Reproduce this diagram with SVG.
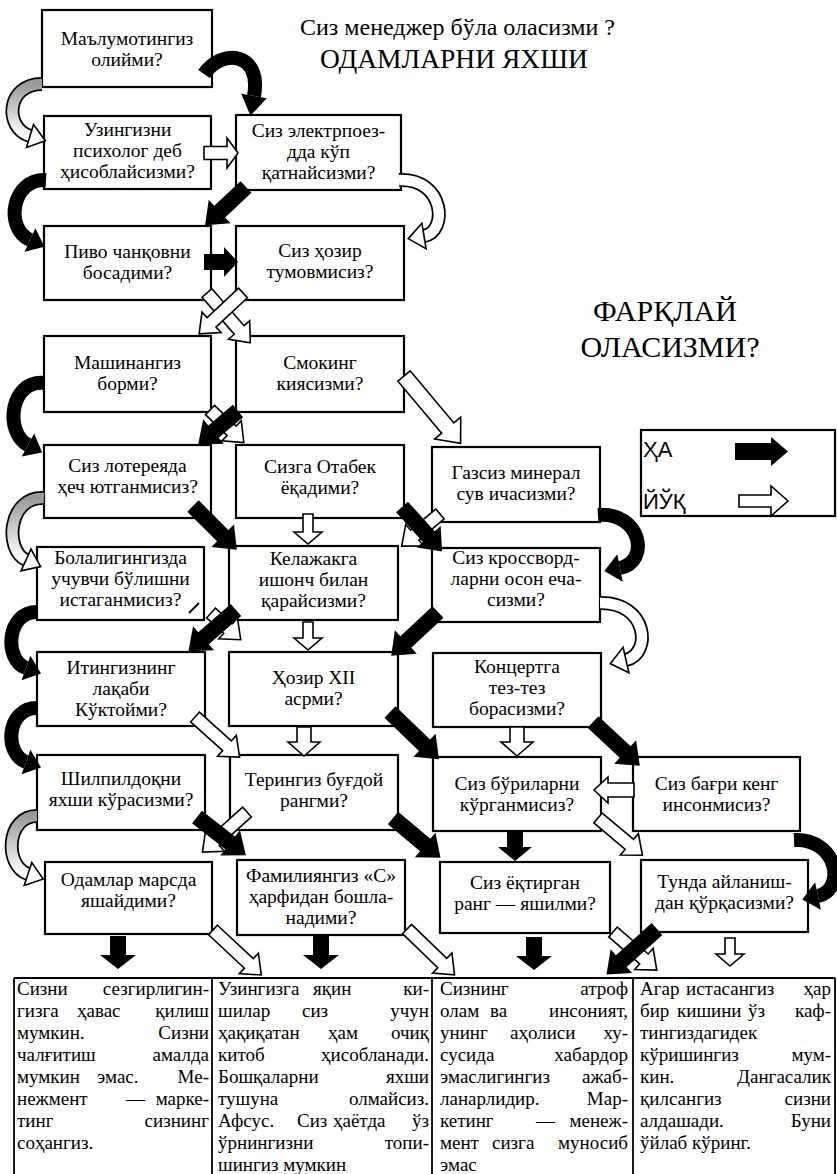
<svg xmlns="http://www.w3.org/2000/svg" xmlns:xlink="http://www.w3.org/1999/xlink" width="837" height="1174" viewBox="0 0 837 1174">
<style>
.box{fill:#fff;stroke:#000;stroke-width:2.2}
.t{font-family:"Liberation Serif","Times New Roman",serif;font-size:19.5px;text-anchor:middle;fill:#000}
.tt{font-family:"Liberation Serif","Times New Roman",serif;font-size:19px;fill:#000}
.e{text-anchor:end}
.ttl{font-family:"Liberation Serif","Times New Roman",serif;fill:#000}
.lg{font-family:"Liberation Sans",Arial,sans-serif;font-size:22px;fill:#000}
.blk{fill:#000}
.wht{fill:#fff;stroke:#000;stroke-width:1.6}
.cb{fill:none;stroke:#000;stroke-width:14}
.co{fill:none;stroke:#000;stroke-width:14}
.cw{fill:none;stroke:#fff;stroke-width:10.5}
.cg{fill:none;stroke:url(#gr);stroke-width:10.5}
.gh{fill:#fff;stroke:#000;stroke-width:1.6}
.tl{fill:none;stroke:#000;stroke-width:1.8}
</style>
<defs>
<linearGradient id="gr" x1="0" y1="0" x2="0" y2="1">
<stop offset="0" stop-color="#9a9a9a"/>
<stop offset="1" stop-color="#ffffff"/>
</linearGradient>
<path id="b34h" d="M0,-8H20V-15L34,0L20,15V8H0Z"/>
<path id="b52" d="M0,-8H32V-16L52,0L32,16V8H0Z"/>
<path id="b56" d="M0,-8H36V-16L56,0L36,16V8H0Z"/>
<path id="b60" d="M0,-8H40V-16L60,0L40,16V8H0Z"/>
<path id="b62" d="M0,-8H42V-16L62,0L42,16V8H0Z"/>
<path id="b63" d="M0,-8H43V-16L63,0L43,16V8H0Z"/>
<path id="b64" d="M0,-8H44V-16L64,0L44,16V8H0Z"/>
<path id="b68" d="M0,-8H48V-16L68,0L48,16V8H0Z"/>
<path id="bv30" d="M0,-8H16V-17L30,0L16,17V8H0Z"/>
<path id="bv33" d="M0,-8H19V-18L33,0L19,18V8H0Z"/>
<path id="w34h" d="M0,-6.5H23V-15L34,0L23,15V6.5H0Z"/>
<path id="w40" d="M0,-6.5H23V-14L40,0L23,14V6.5H0Z"/>
<path id="w47" d="M0,-6.5H30V-14L47,0L30,14V6.5H0Z"/>
<path id="w50" d="M0,-6.5H33V-14L50,0L33,14V6.5H0Z"/>
<path id="w58" d="M0,-6.5H41V-14L58,0L41,14V6.5H0Z"/>
<path id="w60" d="M0,-6.5H43V-14L60,0L43,14V6.5H0Z"/>
<path id="w66" d="M0,-6.5H49V-14L66,0L49,14V6.5H0Z"/>
<path id="w88" d="M0,-8H68V-17L88,0L68,17V8H0Z"/>
<path id="wv30" d="M0,-5H18V-14L30,0L18,14V5H0Z"/>
<path id="wv28" d="M0,-5H16V-14L28,0L16,14V5H0Z"/>
<path id="wv29b" d="M0,-7H15V-16L29,0L15,16V7H0Z"/>
<path id="wh40" d="M0,-7H26V-13L40,0L26,13V7H0Z"/>
</defs>
<rect x="0" y="0" width="837" height="1174" fill="#fff"/>

<g id="titles">
<text class="ttl" x="300" y="35" font-size="24">Сиз менеджер бўла оласизми ?</text>
<text class="ttl" x="320" y="68" font-size="27.5">ОДАМЛАРНИ ЯХШИ</text>
<text class="ttl" x="665" y="321" font-size="30" text-anchor="middle">ФАРҚЛАЙ</text>
<text class="ttl" x="670" y="357" font-size="30" text-anchor="middle">ОЛАСИЗМИ?</text>
</g>

<g id="legend">
<rect class="box" x="641" y="430" width="194" height="86"/>
<text class="lg" x="643" y="457">ҲА</text>
<text class="lg" x="643" y="509">ЙЎҚ</text>
<path class="blk" d="M735,443H771V437L788,451.5L771,466V460H735Z"/>
<path class="wht" d="M739,495H771V486L788,501L771,516V507H739Z"/>
</g>

<g id="n1"><rect class="box" x="42" y="10" width="170" height="77"/><text class="t" x="127" y="45">Маълумотингиз</text><text class="t" x="127" y="66">олийми?</text></g>
<g id="n2"><rect class="box" x="44" y="116" width="167" height="73"/><text class="t" x="127.5" y="136">Узингизни</text><text class="t" x="127.5" y="157">психолог деб</text><text class="t" x="127.5" y="178">ҳисоблайсизми?</text></g>
<g id="n3"><rect class="box" x="236" y="115" width="165" height="75"/><text class="t" x="318.5" y="137">Сиз электрпоез-</text><text class="t" x="318.5" y="158">дда кўп</text><text class="t" x="318.5" y="179">қатнайсизми?</text></g>
<g id="n4"><rect class="box" x="44" y="226" width="167" height="74"/><text class="t" x="127.5" y="258">Пиво чанқовни</text><text class="t" x="127.5" y="279">босадими?</text></g>
<g id="n5"><rect class="box" x="236" y="226" width="168" height="74"/><text class="t" x="320" y="257">Сиз ҳозир</text><text class="t" x="320" y="278">тумовмисиз?</text></g>
<g id="n6"><rect class="box" x="44" y="336" width="167" height="76"/><text class="t" x="127.5" y="369">Машинангиз</text><text class="t" x="127.5" y="390">борми?</text></g>
<g id="n7"><rect class="box" x="236" y="336" width="168" height="76"/><text class="t" x="320" y="369">Смокинг</text><text class="t" x="320" y="390">киясизми?</text></g>
<g id="n8"><rect class="box" x="44" y="445" width="167" height="73"/><text class="t" x="127.5" y="472">Сиз лотереяда</text><text class="t" x="127.5" y="493">ҳеч ютганмисиз?</text></g>
<g id="n9"><rect class="box" x="236" y="445" width="168" height="73"/><text class="t" x="320" y="473">Сизга Отабек</text><text class="t" x="320" y="494">ёқадими?</text></g>
<g id="n10"><rect class="box" x="432" y="447" width="168" height="75"/><text class="t" x="516" y="479">Газсиз минерал</text><text class="t" x="516" y="500">сув ичасизми?</text></g>
<g id="n11"><rect class="box" x="37" y="547" width="167" height="73"/><text class="t" x="120.5" y="564">Болалигингизда</text><text class="t" x="120.5" y="585">учувчи бўлишни</text><text class="t" x="120.5" y="606">истаганмисиз?</text><path class="tl" d="M189,613L199,603"/></g>
<g id="n12"><rect class="box" x="229" y="546" width="169" height="74"/><text class="t" x="313.5" y="565">Келажакга</text><text class="t" x="313.5" y="586">ишонч билан</text><text class="t" x="313.5" y="607">қарайсизми?</text></g>
<g id="n13"><rect class="box" x="432" y="548" width="168" height="74"/><text class="t" x="516" y="564">Сиз кроссворд-</text><text class="t" x="516" y="585">ларни осон еча-</text><text class="t" x="516" y="606">сизми?</text></g>
<g id="n14"><rect class="box" x="37" y="652" width="168" height="74"/><text class="t" x="121" y="674">Итингизнинг</text><text class="t" x="121" y="695">лақаби</text><text class="t" x="121" y="716">Кўктойми?</text></g>
<g id="n15"><rect class="box" x="229" y="652" width="169" height="74"/><text class="t" x="313.5" y="684">Ҳозир XII</text><text class="t" x="313.5" y="705">асрми?</text></g>
<g id="n16"><rect class="box" x="433" y="653" width="168" height="74"/><text class="t" x="517" y="673">Концертга</text><text class="t" x="517" y="694">тез-тез</text><text class="t" x="517" y="715">борасизми?</text></g>
<g id="n17"><rect class="box" x="37" y="755" width="168" height="75"/><text class="t" x="121" y="785">Шилпилдоқни</text><text class="t" x="121" y="806">яхши кўрасизми?</text></g>
<g id="n18"><rect class="box" x="230" y="755" width="168" height="75"/><text class="t" x="314" y="786">Терингиз буғдой</text><text class="t" x="314" y="807">рангми?</text></g>
<g id="n19"><rect class="box" x="433" y="757" width="168" height="74"/><text class="t" x="517" y="790">Сиз бўриларни</text><text class="t" x="517" y="811">кўрганмисиз?</text></g>
<g id="n20"><rect class="box" x="633" y="757" width="167" height="74"/><text class="t" x="716.5" y="790">Сиз бағри кенг</text><text class="t" x="716.5" y="811">инсонмисиз?</text></g>
<g id="n21"><rect class="box" x="45" y="862" width="167" height="72"/><text class="t" x="128.5" y="886">Одамлар марсда</text><text class="t" x="128.5" y="907">яшайдими?</text></g>
<g id="n22"><rect class="box" x="237" y="860" width="168" height="75"/><text class="t" x="321" y="882">Фамилиянгиз «С»</text><text class="t" x="321" y="903">ҳарфидан бошла-</text><text class="t" x="321" y="924">надими?</text></g>
<g id="n23"><rect class="box" x="440" y="862" width="170" height="71"/><text class="t" x="525" y="889">Сиз ёқтирган</text><text class="t" x="525" y="910">ранг — яшилми?</text></g>
<g id="n24"><rect class="box" x="641" y="860" width="167" height="72"/><text class="t" x="724.5" y="888">Тунда айланиш-</text><text class="t" x="724.5" y="909">дан қўрқасизми?</text></g>

<g id="results">
<path class="tl" d="M14,978H835M14,978V1174M212,978V1174M432,978V1174M633,978V1174M835,978V1174"/>
<text class="tt" y="995"><tspan x="17">Сизни</tspan><tspan x="209" class="e">сезгирлигин-</tspan></text>
<text class="tt" y="1017"><tspan x="17">гизга</tspan><tspan x="77">ҳавас</tspan><tspan x="209" class="e">қилиш</tspan></text>
<text class="tt" y="1039"><tspan x="17">мумкин.</tspan><tspan x="209" class="e">Сизни</tspan></text>
<text class="tt" y="1061"><tspan x="17">чалғитиш</tspan><tspan x="209" class="e">амалда</tspan></text>
<text class="tt" y="1083"><tspan x="17">мумкин</tspan><tspan x="97">эмас.</tspan><tspan x="209" class="e">Ме-</tspan></text>
<text class="tt" y="1105"><tspan x="17">нежмент</tspan><tspan x="126">—</tspan><tspan x="209" class="e">марке-</tspan></text>
<text class="tt" y="1127"><tspan x="17">тинг</tspan><tspan x="209" class="e">сизнинг</tspan></text>
<text class="tt" y="1149" x="17">соҳангиз.</text>

<text class="tt" y="995"><tspan x="218">Узингизга</tspan><tspan x="313">яқин</tspan><tspan x="429" class="e">ки-</tspan></text>
<text class="tt" y="1017"><tspan x="218">шилар</tspan><tspan x="302">сиз</tspan><tspan x="429" class="e">учун</tspan></text>
<text class="tt" y="1039"><tspan x="218">ҳақиқатан</tspan><tspan x="328">ҳам</tspan><tspan x="429" class="e">очиқ</tspan></text>
<text class="tt" y="1061"><tspan x="218">китоб</tspan><tspan x="429" class="e">ҳисобланади.</tspan></text>
<text class="tt" y="1083"><tspan x="218">Бошқаларни</tspan><tspan x="429" class="e">яхши</tspan></text>
<text class="tt" y="1105"><tspan x="218">тушуна</tspan><tspan x="429" class="e">олмайсиз.</tspan></text>
<text class="tt" y="1127"><tspan x="218">Афсус.</tspan><tspan x="297">Сиз</tspan><tspan x="333">ҳаётда</tspan><tspan x="429" class="e">ўз</tspan></text>
<text class="tt" y="1149"><tspan x="218">ўрнингизни</tspan><tspan x="429" class="e">топи-</tspan></text>
<text class="tt" y="1171" x="218">шингиз мумкин</text>

<text class="tt" y="995"><tspan x="440">Сизнинг</tspan><tspan x="628" class="e">атроф</tspan></text>
<text class="tt" y="1017"><tspan x="440">олам</tspan><tspan x="490">ва</tspan><tspan x="628" class="e">инсоният,</tspan></text>
<text class="tt" y="1039"><tspan x="440">унинг</tspan><tspan x="510">аҳолиси</tspan><tspan x="628" class="e">ху-</tspan></text>
<text class="tt" y="1061"><tspan x="440">сусида</tspan><tspan x="628" class="e">хабардор</tspan></text>
<text class="tt" y="1083"><tspan x="440">эмаслигингиз</tspan><tspan x="628" class="e">ажаб-</tspan></text>
<text class="tt" y="1105"><tspan x="440">ланарлидир.</tspan><tspan x="628" class="e">Мар-</tspan></text>
<text class="tt" y="1127"><tspan x="440">кетинг</tspan><tspan x="536">—</tspan><tspan x="628" class="e">менеж-</tspan></text>
<text class="tt" y="1149"><tspan x="440">мент</tspan><tspan x="492">сизга</tspan><tspan x="628" class="e">муносиб</tspan></text>
<text class="tt" y="1171" x="440">эмас</text>

<text class="tt" y="995"><tspan x="640">Агар</tspan><tspan x="686">истасангиз</tspan><tspan x="831" class="e">ҳар</tspan></text>
<text class="tt" y="1017"><tspan x="640">бир</tspan><tspan x="677">кишини</tspan><tspan x="748">ўз</tspan><tspan x="831" class="e">каф-</tspan></text>
<text class="tt" y="1039" x="640">тингиздагидек</text>
<text class="tt" y="1061"><tspan x="640">кўришингиз</tspan><tspan x="831" class="e">мум-</tspan></text>
<text class="tt" y="1083"><tspan x="640">кин.</tspan><tspan x="831" class="e">Дангасалик</tspan></text>
<text class="tt" y="1105"><tspan x="640">қилсангиз</tspan><tspan x="831" class="e">сизни</tspan></text>
<text class="tt" y="1127"><tspan x="640">алдашади.</tspan><tspan x="831" class="e">Буни</tspan></text>
<text class="tt" y="1149" x="640">ўйлаб кўринг.</text>
</g>

<g id="connectors">
<path class="co" d="M42,84C6,84 4,128 30,136"/><path class="cg" d="M42,84C6,84 4,128 30,136"/><path class="gh" d="M45.3,140.7L26.5,147.5L33.5,124.5Z"/>
<path class="co" d="M44,498C8,496 4,550 26,560"/><path class="cg" d="M44,498C8,496 4,550 26,560"/><path class="gh" d="M40.6,566.6L21,570.9L31,549.1Z"/>
<path class="co" d="M37,816C6,816 4,866 28,874"/><path class="cg" d="M37,816C6,816 4,866 28,874"/><path class="gh" d="M43.2,879L24.2,885.4L31.8,862.6Z"/>
<path class="co" d="M399,180C445,178 448,232 424,236"/><path class="cw" d="M399,180C445,178 448,232 424,236"/><path class="gh" d="M408.2,238.6L421.9,223.2L426.1,248.8Z"/>
<path class="co" d="M600,603C648,602 652,654 626,660"/><path class="cw" d="M600,603C648,602 652,654 626,660"/><path class="gh" d="M610.4,663.6L623.1,647.3L628.9,672.7Z"/>
<use href="#w34h" class="wht" transform="translate(204,153)"/>
<use href="#w66" class="wht" transform="translate(207,293) rotate(49)"/>
<use href="#w60" class="wht" transform="translate(243,293) rotate(137)"/>
<use href="#w88" class="wht" transform="translate(404,376) rotate(50)"/>
<use href="#w47" class="wht" transform="translate(210,410) rotate(44)"/>
<use href="#wv30" class="wht" transform="translate(308,514) rotate(90)"/>
<use href="#w50" class="wht" transform="translate(440,514) rotate(140)"/>
<use href="#w40" class="wht" transform="translate(211,613) rotate(42)"/>
<use href="#wv28" class="wht" transform="translate(308,622) rotate(90)"/>
<use href="#w60" class="wht" transform="translate(195,717) rotate(42)"/>
<use href="#wv29b" class="wht" transform="translate(304,727) rotate(90)"/>
<use href="#wv29b" class="wht" transform="translate(517,727) rotate(90)"/>
<use href="#wh40" class="wht" transform="translate(634,790) rotate(180)"/>
<use href="#w60" class="wht" transform="translate(247,812) rotate(138)"/>
<use href="#w58" class="wht" transform="translate(598,818) rotate(40)"/>
<use href="#w66" class="wht" transform="translate(213,930) rotate(43)"/>
<use href="#w66" class="wht" transform="translate(407,929) rotate(44)"/>
<use href="#w58" class="wht" transform="translate(613,932) rotate(41)"/>
<use href="#wv28" class="wht" transform="translate(730,938) rotate(90)"/>
<path class="cb" d="M204,74C222,48 262,52 254,96"/><path class="blk" d="M250.4,115.7L241.2,93.7L266.8,98.3Z"/>
<path class="cb" d="M46,180C12,178 4,228 30,240"/><path class="blk" d="M44.5,246.7L24.6,251.8L35.4,228.2Z"/>
<path class="cb" d="M44,383C10,380 4,432 28,445"/><path class="blk" d="M42.1,452.6L21.8,456.4L34.2,433.6Z"/>
<path class="cb" d="M37,612C6,612 4,660 26,668"/><path class="blk" d="M41,673.5L21.6,680.2L30.4,655.8Z"/>
<path class="cb" d="M37,708C6,708 4,754 26,762"/><path class="blk" d="M41,767.5L21.6,774.2L30.4,749.8Z"/>
<path class="cb" d="M598,515C642,512 650,562 620,568"/><path class="blk" d="M604.3,571.1L617.3,554.3L622.7,581.7Z"/>
<path class="cb" d="M794,840C838,838 846,890 818,896"/><path class="blk" d="M802.3,899.4L815.1,882.3L820.9,909.7Z"/>
<use href="#b56" class="blk" transform="translate(246,187) rotate(137)"/>
<use href="#b34h" class="blk" transform="translate(204,262)"/>
<use href="#b52" class="blk" transform="translate(238,411) rotate(140)"/>
<use href="#b62" class="blk" transform="translate(193,506) rotate(45)"/>
<use href="#b60" class="blk" transform="translate(402,507) rotate(48)"/>
<use href="#b63" class="blk" transform="translate(236,610) rotate(139)"/>
<use href="#b64" class="blk" transform="translate(438,612) rotate(137)"/>
<use href="#b68" class="blk" transform="translate(390,712) rotate(44)"/>
<use href="#b64" class="blk" transform="translate(593,722) rotate(43)"/>
<use href="#b62" class="blk" transform="translate(197,817) rotate(38)"/>
<use href="#b62" class="blk" transform="translate(393,818) rotate(40)"/>
<use href="#bv30" class="blk" transform="translate(515,831) rotate(90)"/>
<use href="#bv33" class="blk" transform="translate(118,936) rotate(90)"/>
<use href="#bv33" class="blk" transform="translate(321,936) rotate(90)"/>
<use href="#bv33" class="blk" transform="translate(534,937) rotate(90)"/>
<use href="#b68" class="blk" transform="translate(657,929) rotate(138)"/>
</g>
</svg>
